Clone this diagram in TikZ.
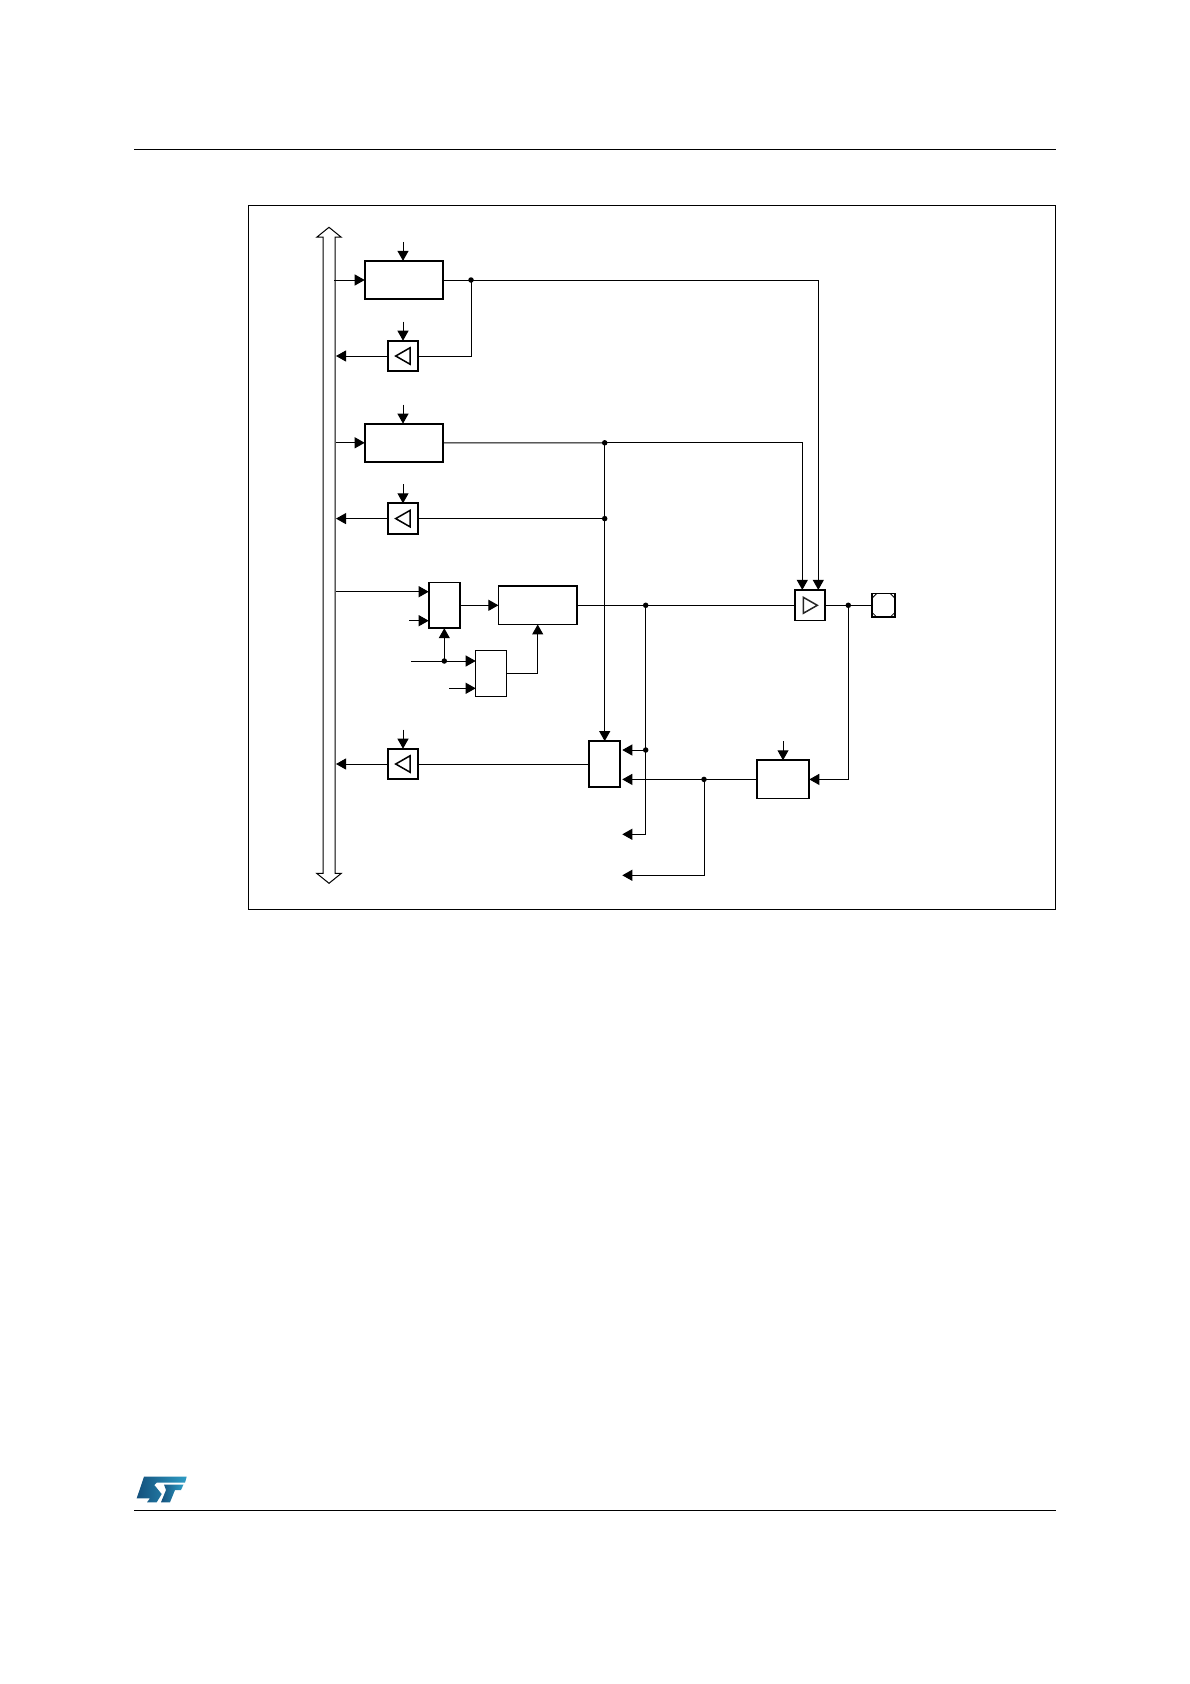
\documentclass[tikz,border=0pt]{standalone}
\usepackage{tikz}
\usetikzlibrary{arrows.meta,calc,positioning,shapes.arrows}
\definecolor{stA}{HTML}{14507C}
\definecolor{stB}{HTML}{2E9CC4}
\begin{document}
\begin{tikzpicture}[x=1pt,y=-1pt,line width=1pt,
  reg/.style={draw,line width=1.7pt,inner sep=0pt,outer sep=0pt,minimum width=78.6pt,minimum height=38.3pt},
  mux/.style={draw,line width=1.7pt,inner sep=0pt,outer sep=0pt,minimum width=31pt,minimum height=45.8pt},
  buf/.style={draw,line width=1.7pt,inner sep=0pt,outer sep=0pt,minimum size=30.6pt},
  pad/.style={draw,line width=1.7pt,inner sep=0pt,outer sep=0pt,minimum size=23.6pt},
  bus/.style={draw,double arrow,rotate=90,inner xsep=0pt,inner ysep=5.5pt,outer sep=0pt,minimum height=656pt,
    double arrow tip angle=102,double arrow head extend=6.2pt},
  dot/.style={circle,fill=black,inner sep=0pt,outer sep=0pt,minimum size=5.5pt},
  tri/.style={line width=1.5pt,draw=black},
  arr/.style={-{Triangle[length=10pt,width=11pt]}}]
  \useasboundingbox (0,0) rectangle (1190,1684);
  % page rules and frame
  \draw (134,149.5) -- (1056,149.5);
  \draw (134,1510.4) -- (1056,1510.4);
  \draw (248.3,205.3) rectangle (1055.5,909.7);
  % logo
  \shade[left color=stA,right color=stB] (144,1476.7) -- (186.7,1476.7) -- (185,1482.7) -- (156.7,1482.7)
    -- (154.3,1485) -- (161.7,1494) -- (156.7,1502.3) -- (147,1502.3) -- (150,1498.3) -- (136.7,1498.3) -- cycle;
  \shade[left color=stA,right color=stB] (164,1484.5) -- (183.5,1484.5) -- (181,1490) -- (175,1490)
    -- (170,1502.3) -- (161,1502.3) -- (166,1490) -- cycle;
  % bus
  \node[bus] (bus) at (329,555.3) {};
  \coordinate (busR) at (334.3,555);
  \coordinate (busL) at (336,555);
  % blocks
  \node[reg] (reg1) at (404,280) {};
  \node[reg,below=124.5pt of reg1] (reg2) {};
  \node[buf] (buf1) at (403,356) {};
  \node[buf] (buf2) at (403,518.6) {};
  \node[buf] (buf3) at (403,764) {};
  \node[mux] (muxa) at (444.5,605.3) {};
  \node[reg,right=38.4pt of muxa] (reg3) {};
  \node[mux] (muxb) at (491,673.5) {};
  \node[mux] (muxc) at (604.5,764) {};
  \node[reg,minimum width=52.6pt] (reg4) at (783,779.4) {};
  \node[buf] (buf4) at (810,605.3) {};
  \node[pad,right=46.4pt of buf4] (pad) {};
  % triangles and corners
  \foreach \n in {buf1,buf2,buf3}
    \draw[tri] ($(\n)+(-7.3,0)$) -- ++(14.3,-8.2) -- ++(0,16.4) -- cycle;
  \draw[tri,draw=black!85] ($(buf4)+(7.3,0)$) -- ++(-14,-8) -- ++(0,16) -- cycle;
  \draw[line width=.8pt] ($(pad.north west)+(5,0)$) -- ($(pad.north west)+(0,5)$);
  \draw[line width=.8pt] ($(pad.north east)+(-5,0)$) -- ($(pad.north east)+(0,5)$);
  \draw[line width=.8pt] ($(pad.south west)+(5,0)$) -- ($(pad.south west)+(0,-5)$);
  \draw[line width=.8pt] ($(pad.south east)+(-5,0)$) -- ($(pad.south east)+(0,-5)$);
  % junctions
  \node[dot] (j1) at (471,280) {};
  \node[dot] (j2) at (604.7,442.8) {};
  \node[dot] (j3) at (604.7,518.6) {};
  \node[dot] (j4) at (645.7,605.3) {};
  \node[dot] (j5) at (848.3,605.3) {};
  \node[dot] (j6) at (645.7,750) {};
  \node[dot] (j7) at (704,779.4) {};
  \node[dot] (j8) at (444.3,661) {};
  % free ends
  \coordinate (oa) at (622.3,834.3);
  \coordinate (ob) at (622.3,875.3);
  \coordinate (ma) at (428.7,591.7);
  \coordinate (mb) at (428.7,620.7);
  \coordinate (mc) at (475.7,661);
  \coordinate (md) at (475.7,688.3);
  \coordinate (me) at (622.3,750);
  \coordinate (mf) at (622.3,779.4);
  \coordinate (ia) at (802.3,589.9);
  \coordinate (ib) at (818.3,589.9);
  % control inputs
  \foreach \n in {buf1,buf2,buf3,reg4}
    \draw[arr] (\n.north) ++(0,-19) -- (\n.north);
  \draw[arr] (reg1.north-|buf1) ++(0,-19) -- (reg1.north-|buf1);
  \draw[arr] (reg2.north-|buf1) ++(0,-19) -- (reg2.north-|buf1);
  % bus connections
  \draw[arr] (reg1.west-|busR) -- (reg1.west);
  \draw[arr] (reg2.west-|busL) -- (reg2.west);
  \draw[arr] (ma-|busL) -- (ma);
  \foreach \n in {buf1,buf2,buf3}
    \draw[arr] (\n.west) -- (\n.west-|busL);
  % registers to output
  \draw (reg1.east) -- (j1.center);
  \draw[arr] (j1.center) -| (ib);
  \draw (j1.center) |- (buf1.east);
  \draw (reg2.east) -- (j2.center);
  \draw[arr] (j2.center) -| (ia);
  \draw (buf2.east) -- (j3.center);
  \draw[arr] (j2.center) -- (muxc.north-|j2);
  \draw[arr] (muxa.east) -- (reg3.west);
  \draw (reg3.east) -- (buf4.west);
  \draw (buf4.east) -- (pad.west);
  % mode logic
  \draw[arr] ($(mb)+(-19.4,0)$) -- (mb);
  \draw[arr] ($(mc)+(-64.7,0)$) -- (mc);
  \draw[arr] (j8.center) -- (muxa.south-|j8);
  \draw[arr] ($(md)+(-26.7,0)$) -- (md);
  \draw[arr] (muxb.east) -| (reg3.south);
  % input path
  \draw (buf3.east) -- (muxc.west);
  \draw[arr] (j4.center) |- (oa);
  \draw[arr] (j6.center) -- (me);
  \draw[arr] (reg4.west) -- (mf);
  \draw[arr] (j7.center) |- (ob);
  \draw[arr] (j5.center) |- (reg4.east);
\end{tikzpicture}
\end{document}
